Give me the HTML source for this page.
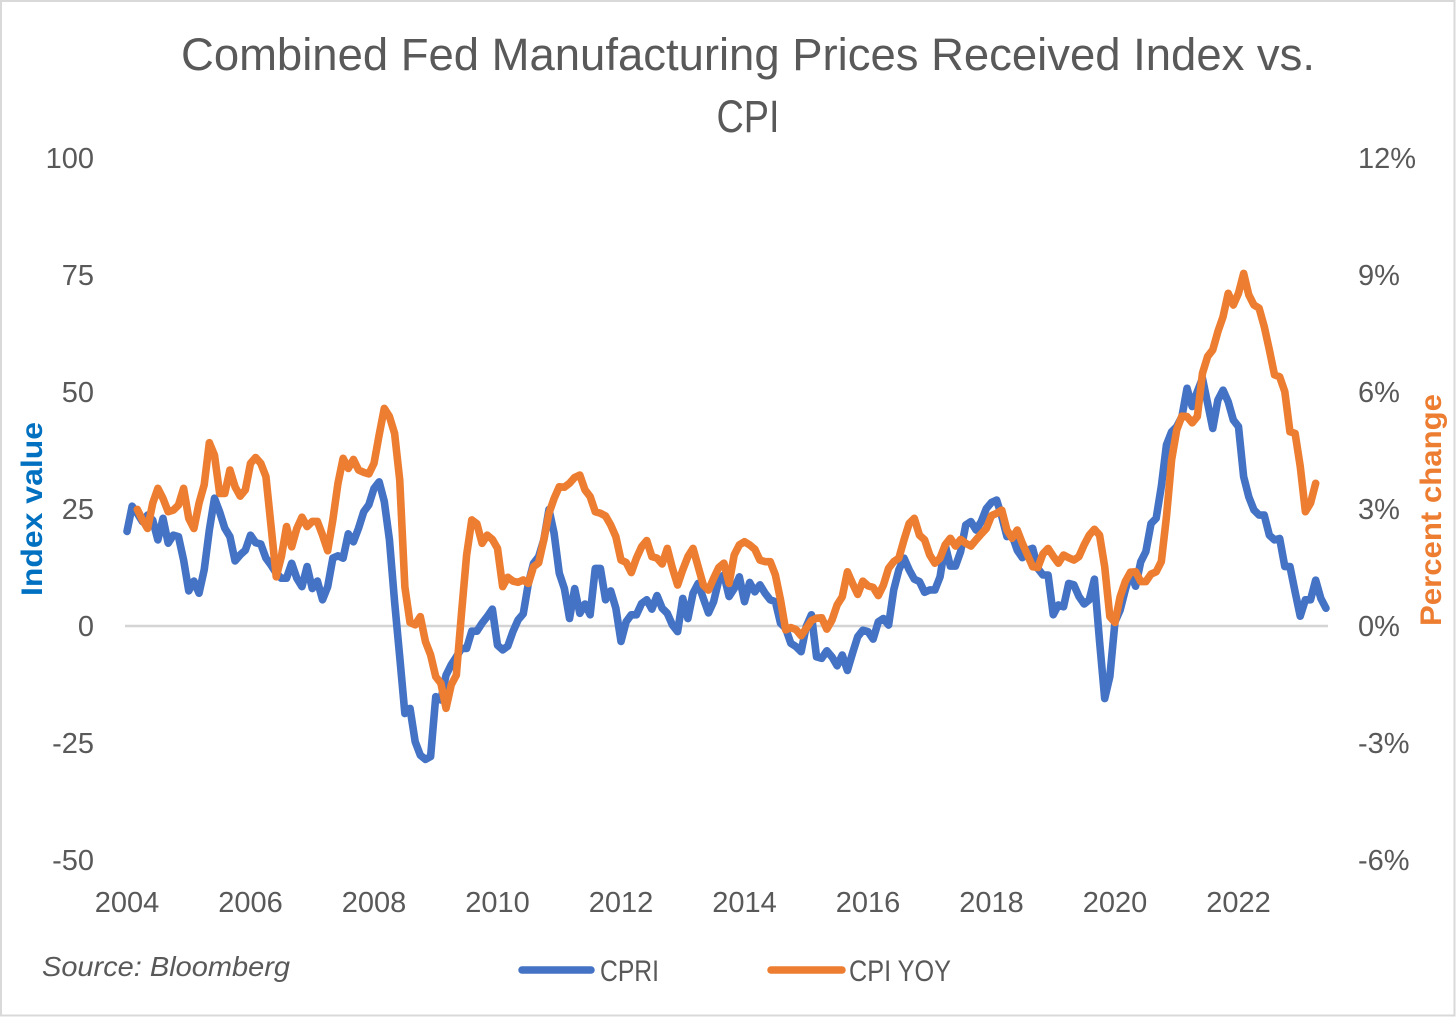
<!DOCTYPE html>
<html lang="en">
<head>
<meta charset="utf-8">
<title>Combined Fed Manufacturing Prices Received Index vs. CPI</title>
<style>
  html, body { margin: 0; padding: 0; background: #fff; }
  svg { display: block; }
  text { font-family: "Liberation Sans", sans-serif; fill: #595959; }
</style>
</head>
<body>
<svg id="chart" xmlns="http://www.w3.org/2000/svg" width="1456" height="1017" viewBox="0 0 1456 1017">
  <rect x="1" y="1" width="1453.5" height="1014.5" fill="#fff" stroke="#d9d9d9" stroke-width="2"/>
  <text x="748" y="70" text-anchor="middle" font-size="45" textLength="1134" lengthAdjust="spacingAndGlyphs">Combined Fed Manufacturing Prices Received Index vs.</text>
  <text x="748" y="132" text-anchor="middle" font-size="45" textLength="63" lengthAdjust="spacingAndGlyphs">CPI</text>
  <text transform="translate(42,509) rotate(-90)" text-anchor="middle" font-size="30" font-weight="bold" textLength="174" lengthAdjust="spacingAndGlyphs" style="fill:#0070c0">Index value</text>
  <text transform="translate(1441,510) rotate(-90)" text-anchor="middle" font-size="30" font-weight="bold" textLength="232" lengthAdjust="spacingAndGlyphs" style="fill:#ed7d31">Percent change</text>
  <line x1="125" y1="626" x2="1328" y2="626" stroke="#d4d4d4" stroke-width="2.5"/>
  <g id="left-ticks"></g>
  <g id="right-ticks"></g>
  <g id="x-ticks"></g>
  <g id="series"></g>
  <text x="42" y="976" font-size="28" font-style="italic" textLength="248" lengthAdjust="spacingAndGlyphs">Source: Bloomberg</text>
  <g>
    <line x1="522" y1="970" x2="591" y2="970" stroke="#4472c4" stroke-width="7.5" stroke-linecap="round"/>
    <text x="600" y="981" font-size="30" textLength="59" lengthAdjust="spacingAndGlyphs">CPRI</text>
    <line x1="771" y1="970" x2="842" y2="970" stroke="#ed7d31" stroke-width="7.5" stroke-linecap="round"/>
    <text x="849" y="981" font-size="30" textLength="102" lengthAdjust="spacingAndGlyphs">CPI YOY</text>
  </g>
</svg>
<script>
const yearLabels = [2004,2006,2008,2010,2012,2014,2016,2018,2020,2022];
const leftTicks = [100,75,50,25,0,-25,-50];
const rightTicks = [12,9,6,3,0,-3,-6];
const cpri = [
20.2,25.6,24.1,22.3,23.7,22.6,18.4,23.0,17.7,19.4,19.1,14.1,
7.5,9.6,7.0,12.0,20.5,27.3,24.4,20.9,19.1,13.9,15.2,16.2,
19.4,17.8,17.5,14.5,13.0,11.3,10.2,10.2,13.4,10.2,8.4,12.7,
8.0,9.6,5.6,8.4,14.5,15.0,14.5,19.7,18.0,20.9,24.4,25.9,
29.4,30.8,26.6,18.4,5.2,-6.6,-18.7,-17.6,-24.7,-27.6,-28.5,-27.9,
-15.1,-15.8,-10.5,-8.3,-6.6,-4.8,-4.8,-1.1,-1.1,0.6,2.0,3.6,
-4.1,-5.1,-4.3,-1.2,1.3,2.6,9.1,13.4,14.8,18.4,24.9,19.8,
11.3,8.0,1.6,8.0,2.7,4.7,2.4,12.3,12.3,5.6,7.5,3.8,
-3.3,0.9,2.4,2.4,4.8,5.6,3.6,6.5,3.8,2.7,0.2,-1.2,
5.9,1.6,7.0,9.1,5.9,2.8,5.2,9.8,10.9,6.3,8.0,10.5,
5.2,9.3,7.3,8.8,7.0,5.6,5.2,0.6,-0.5,-3.7,-4.4,-5.5,
-0.1,2.4,-6.6,-6.9,-5.3,-6.6,-8.5,-6.2,-9.5,-5.8,-2.3,-0.9,
-1.2,-2.8,0.9,1.6,0.2,7.7,12.0,14.5,12.0,10.0,9.5,7.2,
7.7,7.7,10.5,17.3,12.8,12.8,15.9,21.6,22.3,20.5,22.3,25.1,
26.4,26.9,23.4,19.1,19.4,16.2,14.6,16.2,16.6,12.3,10.9,10.9,
2.4,4.5,4.1,9.1,8.8,6.3,4.7,5.6,10.0,-3.3,-15.5,-10.8,
0.9,3.4,7.7,11.4,8.5,13.7,15.9,21.9,23.0,29.8,38.7,41.5,
42.6,44.7,50.8,46.9,50.1,52.9,47.6,42.2,48.3,50.4,47.9,44.0,
42.6,31.9,27.6,24.8,23.7,23.7,19.4,18.4,18.7,12.7,12.7,7.3,
2.1,5.6,5.6,9.8,5.9,3.8
];
const cpiYoy = [
null,null,2.99,2.72,2.50,3.15,3.53,3.27,2.93,2.97,3.10,3.53,
2.76,2.50,3.15,3.62,4.70,4.38,3.40,3.40,4.00,3.57,3.33,3.49,
4.17,4.32,4.17,3.83,2.55,1.26,1.78,2.55,2.03,2.50,2.79,2.55,
2.68,2.68,2.33,1.93,2.72,3.66,4.30,4.04,4.27,4.00,3.94,3.90,
4.17,4.90,5.58,5.37,4.94,3.74,1.00,0.09,0.03,0.24,-0.40,-0.74,
-1.30,-1.47,-2.11,-1.51,-1.26,0.32,1.82,2.72,2.62,2.12,2.33,2.22,
1.99,1.01,1.25,1.15,1.12,1.18,1.09,1.52,1.62,2.21,2.89,3.27,
3.57,3.56,3.66,3.81,3.87,3.49,3.32,2.93,2.89,2.82,2.59,2.29,
1.69,1.63,1.37,1.74,2.03,2.19,1.78,1.74,1.59,1.99,1.48,1.05,
1.44,1.78,1.99,1.52,1.05,0.92,1.22,1.50,1.61,1.09,1.82,2.08,
2.16,2.08,1.97,1.69,1.65,1.65,1.31,0.67,-0.10,-0.04,-0.09,-0.25,
-0.06,0.14,0.20,0.21,-0.08,0.15,0.54,0.75,1.39,1.09,0.81,1.15,
1.03,0.99,0.78,1.05,1.48,1.65,1.74,2.21,2.63,2.76,2.33,2.21,
1.82,1.61,1.74,2.08,2.25,2.05,2.22,2.12,2.05,2.21,2.36,2.50,
2.83,2.89,2.97,2.46,2.25,2.46,2.12,1.82,1.52,1.50,1.85,1.99,
1.79,1.61,1.82,1.75,1.69,1.78,2.08,2.33,2.48,2.33,1.52,0.24,
0.09,0.75,1.14,1.38,1.39,1.14,1.14,1.33,1.39,1.65,2.80,4.26,
5.03,5.38,5.37,5.21,5.37,6.48,6.91,7.08,7.55,7.93,8.53,8.23,
8.53,9.04,8.49,8.23,8.15,7.68,7.08,6.44,6.39,6.01,4.98,4.94,
4.09,2.93,3.15,3.66
];

const NS = 'http://www.w3.org/2000/svg';
const xAt = i => 127 + i * (1200 / 233.2);
const xOfYear = yr => xAt((yr - 2004) * 12);
const yLeft = v => 626 - v * 4.68;
const yRight = v => 626 - v * 39;

function makeText(parent, x, y, anchor, str) {
  const t = document.createElementNS(NS, 'text');
  t.setAttribute('x', x);
  t.setAttribute('y', y);
  t.setAttribute('text-anchor', anchor);
  t.setAttribute('font-size', '29');
  t.textContent = str;
  parent.appendChild(t);
  return t;
}

const leftGroup = document.getElementById('left-ticks');
leftTicks.forEach(v => {
  const el = makeText(leftGroup, 94, yLeft(v) + 10, 'end', String(v));
  
  
});

const rightGroup = document.getElementById('right-ticks');
rightTicks.forEach(v => {
  const el = makeText(rightGroup, 1358, yRight(v) + 10, 'start', v + '%');
  
  
});

const xGroup = document.getElementById('x-ticks');
yearLabels.forEach(yr => {
  const el = makeText(xGroup, xOfYear(yr), 912, 'middle', String(yr));
  
  
});

function linePath(values, yFn) {
  let d = '';
  values.forEach((v, i) => {
    if (v === null) return;
    d += (d ? 'L' : 'M') + xAt(i).toFixed(2) + ' ' + yFn(v).toFixed(2);
  });
  return d;
}

const seriesGroup = document.getElementById('series');

const cpriLine = document.createElementNS(NS, 'path');
cpriLine.setAttribute('d', linePath(cpri, yLeft));
cpriLine.setAttribute('fill', 'none');
cpriLine.setAttribute('stroke', '#4472c4');
cpriLine.setAttribute('stroke-width', '7.6');
cpriLine.setAttribute('stroke-linejoin', 'round');
cpriLine.setAttribute('stroke-linecap', 'round');


seriesGroup.appendChild(cpriLine);

const cpiLine = document.createElementNS(NS, 'path');
cpiLine.setAttribute('d', linePath(cpiYoy, yRight));
cpiLine.setAttribute('fill', 'none');
cpiLine.setAttribute('stroke', '#ed7d31');
cpiLine.setAttribute('stroke-width', '7.6');
cpiLine.setAttribute('stroke-linejoin', 'round');
cpiLine.setAttribute('stroke-linecap', 'round');


seriesGroup.appendChild(cpiLine);
</script>
</body>
</html>
